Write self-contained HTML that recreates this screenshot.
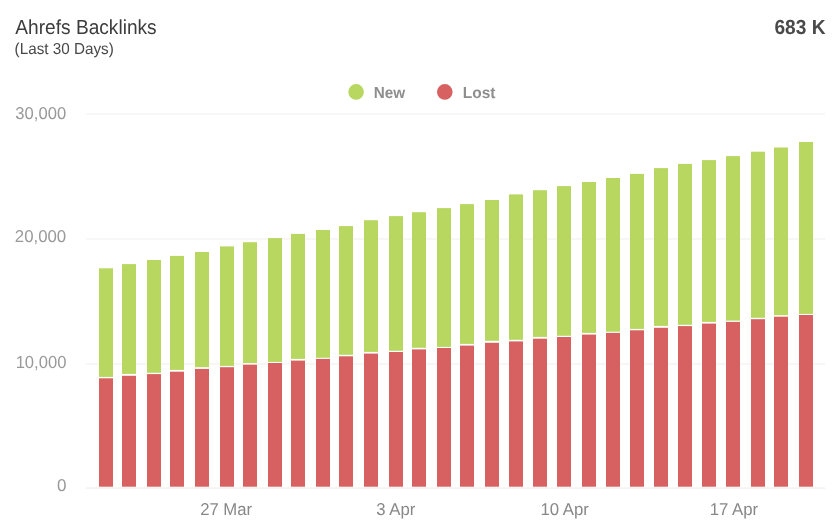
<!DOCTYPE html>
<html><head><meta charset="utf-8"><style>
html,body{margin:0;padding:0;background:#fff;width:837px;height:531px;overflow:hidden}
svg{display:block;will-change:transform;font-family:"Liberation Sans",sans-serif}
</style></head><body>
<svg width="837" height="531" viewBox="0 0 837 531" text-rendering="geometricPrecision">
<rect width="837" height="531" fill="#fff"/>
<circle cx="356.1" cy="91.9" r="7.8" fill="#b8d761"/>
<circle cx="444.8" cy="91.9" r="7.8" fill="#d76160"/>
<g fill="#f0eeeb">
<rect x="86" y="113.45" width="739" height="1"/>
<rect x="86" y="238.45" width="739" height="1"/>
<rect x="86" y="363.45" width="739" height="1"/>
<rect x="86" y="487.5" width="739" height="1.2"/>
</g>
<rect x="99" y="268.3" width="14" height="108.60" fill="#b8d761"/><rect x="99" y="378.3" width="14" height="108.40" fill="#d76160"/>
<rect x="122" y="264.1" width="14" height="109.80" fill="#b8d761"/><rect x="122" y="375.8" width="14" height="110.90" fill="#d76160"/>
<rect x="147" y="260" width="14" height="112.80" fill="#b8d761"/><rect x="147" y="374.1" width="14" height="112.60" fill="#d76160"/>
<rect x="170" y="255.9" width="14" height="114.00" fill="#b8d761"/><rect x="170" y="371.7" width="14" height="115.00" fill="#d76160"/>
<rect x="195" y="252" width="14" height="115.20" fill="#b8d761"/><rect x="195" y="368.9" width="14" height="117.80" fill="#d76160"/>
<rect x="220" y="246.4" width="14" height="119.50" fill="#b8d761"/><rect x="220" y="367.2" width="14" height="119.50" fill="#d76160"/>
<rect x="243" y="242.2" width="14" height="120.80" fill="#b8d761"/><rect x="243" y="364.7" width="14" height="122.00" fill="#d76160"/>
<rect x="268" y="238.1" width="14" height="123.80" fill="#b8d761"/><rect x="268" y="363" width="14" height="123.70" fill="#d76160"/>
<rect x="291" y="233.9" width="14" height="125.00" fill="#b8d761"/><rect x="291" y="360.6" width="14" height="126.10" fill="#d76160"/>
<rect x="316" y="230" width="14" height="127.80" fill="#b8d761"/><rect x="316" y="358.9" width="14" height="127.80" fill="#d76160"/>
<rect x="339" y="226.1" width="14" height="128.70" fill="#b8d761"/><rect x="339" y="356.3" width="14" height="130.40" fill="#d76160"/>
<rect x="364" y="220.2" width="14" height="131.70" fill="#b8d761"/><rect x="364" y="353.6" width="14" height="133.10" fill="#d76160"/>
<rect x="389" y="216.1" width="14" height="134.70" fill="#b8d761"/><rect x="389" y="352" width="14" height="134.70" fill="#d76160"/>
<rect x="412" y="212.2" width="14" height="135.60" fill="#b8d761"/><rect x="412" y="349.4" width="14" height="137.30" fill="#d76160"/>
<rect x="437" y="208.1" width="14" height="138.80" fill="#b8d761"/><rect x="437" y="348" width="14" height="138.70" fill="#d76160"/>
<rect x="460" y="204.1" width="14" height="139.80" fill="#b8d761"/><rect x="460" y="345.6" width="14" height="141.10" fill="#d76160"/>
<rect x="485" y="200" width="14" height="140.80" fill="#b8d761"/><rect x="485" y="342.8" width="14" height="143.90" fill="#d76160"/>
<rect x="509" y="194.4" width="14" height="145.40" fill="#b8d761"/><rect x="509" y="341.4" width="14" height="145.30" fill="#d76160"/>
<rect x="533" y="190.2" width="14" height="146.70" fill="#b8d761"/><rect x="533" y="338.7" width="14" height="148.00" fill="#d76160"/>
<rect x="557" y="186.1" width="14" height="149.70" fill="#b8d761"/><rect x="557" y="337" width="14" height="149.70" fill="#d76160"/>
<rect x="582" y="182" width="14" height="150.90" fill="#b8d761"/><rect x="582" y="334.6" width="14" height="152.10" fill="#d76160"/>
<rect x="606" y="178" width="14" height="153.70" fill="#b8d761"/><rect x="606" y="332.9" width="14" height="153.80" fill="#d76160"/>
<rect x="630" y="173.9" width="14" height="155.00" fill="#b8d761"/><rect x="630" y="330.3" width="14" height="156.40" fill="#d76160"/>
<rect x="654" y="168.1" width="14" height="157.80" fill="#b8d761"/><rect x="654" y="327.8" width="14" height="158.90" fill="#d76160"/>
<rect x="678" y="163.9" width="14" height="160.90" fill="#b8d761"/><rect x="678" y="326.1" width="14" height="160.60" fill="#d76160"/>
<rect x="702" y="160.1" width="14" height="161.80" fill="#b8d761"/><rect x="702" y="323.6" width="14" height="163.10" fill="#d76160"/>
<rect x="726" y="156.1" width="14" height="164.50" fill="#b8d761"/><rect x="726" y="321.9" width="14" height="164.80" fill="#d76160"/>
<rect x="751" y="151.7" width="14" height="166.10" fill="#b8d761"/><rect x="751" y="319.2" width="14" height="167.50" fill="#d76160"/>
<rect x="774" y="147.5" width="14" height="167.70" fill="#b8d761"/><rect x="774" y="316.7" width="14" height="170.00" fill="#d76160"/>
<rect x="799" y="142" width="14" height="171.90" fill="#b8d761"/><rect x="799" y="315" width="14" height="171.70" fill="#d76160"/>
<text x="15.35" y="33.9" font-size="20.29" font-weight="normal" fill="#3c3c3c" textLength="141.29" lengthAdjust="spacingAndGlyphs">Ahrefs Backlinks</text>
<text x="14.6" y="53.8" font-size="15.86" font-weight="normal" fill="#484848" textLength="99.16" lengthAdjust="spacingAndGlyphs">(Last 30 Days)</text>
<text x="774.4" y="33.9" font-size="20.37" font-weight="bold" fill="#4a4a4a" textLength="51.13" lengthAdjust="spacingAndGlyphs">683 K</text>
<text x="373.7" y="97.9" font-size="15.86" font-weight="bold" fill="#8e8e8e" textLength="31.39" lengthAdjust="spacingAndGlyphs">New</text>
<text x="462.8" y="98" font-size="15.86" font-weight="bold" fill="#8e8e8e" textLength="32.7" lengthAdjust="spacingAndGlyphs">Lost</text>
<text x="15.35" y="118.7" font-size="17.07" font-weight="normal" fill="#999" textLength="50.77" lengthAdjust="spacingAndGlyphs">30,000</text>
<text x="14.8" y="241.7" font-size="17.07" font-weight="normal" fill="#999" textLength="51.37" lengthAdjust="spacingAndGlyphs">20,000</text>
<text x="15.65" y="367.8" font-size="17.45" font-weight="normal" fill="#999" textLength="50.74" lengthAdjust="spacingAndGlyphs">10,000</text>
<text x="56.9" y="490.9" font-size="17.07" font-weight="normal" fill="#999" textLength="9.48" lengthAdjust="spacingAndGlyphs">0</text>
<text x="200.15" y="514.7" font-size="17.1" font-weight="normal" fill="#888" textLength="51.97" lengthAdjust="spacingAndGlyphs">27 Mar</text>
<text x="376.2" y="514.7" font-size="17.1" font-weight="normal" fill="#888" textLength="39.12" lengthAdjust="spacingAndGlyphs">3 Apr</text>
<text x="540.45" y="514.7" font-size="17.1" font-weight="normal" fill="#888" textLength="48.5" lengthAdjust="spacingAndGlyphs">10 Apr</text>
<text x="709.65" y="514.7" font-size="17.1" font-weight="normal" fill="#888" textLength="48.49" lengthAdjust="spacingAndGlyphs">17 Apr</text>
</svg>
</body></html>
